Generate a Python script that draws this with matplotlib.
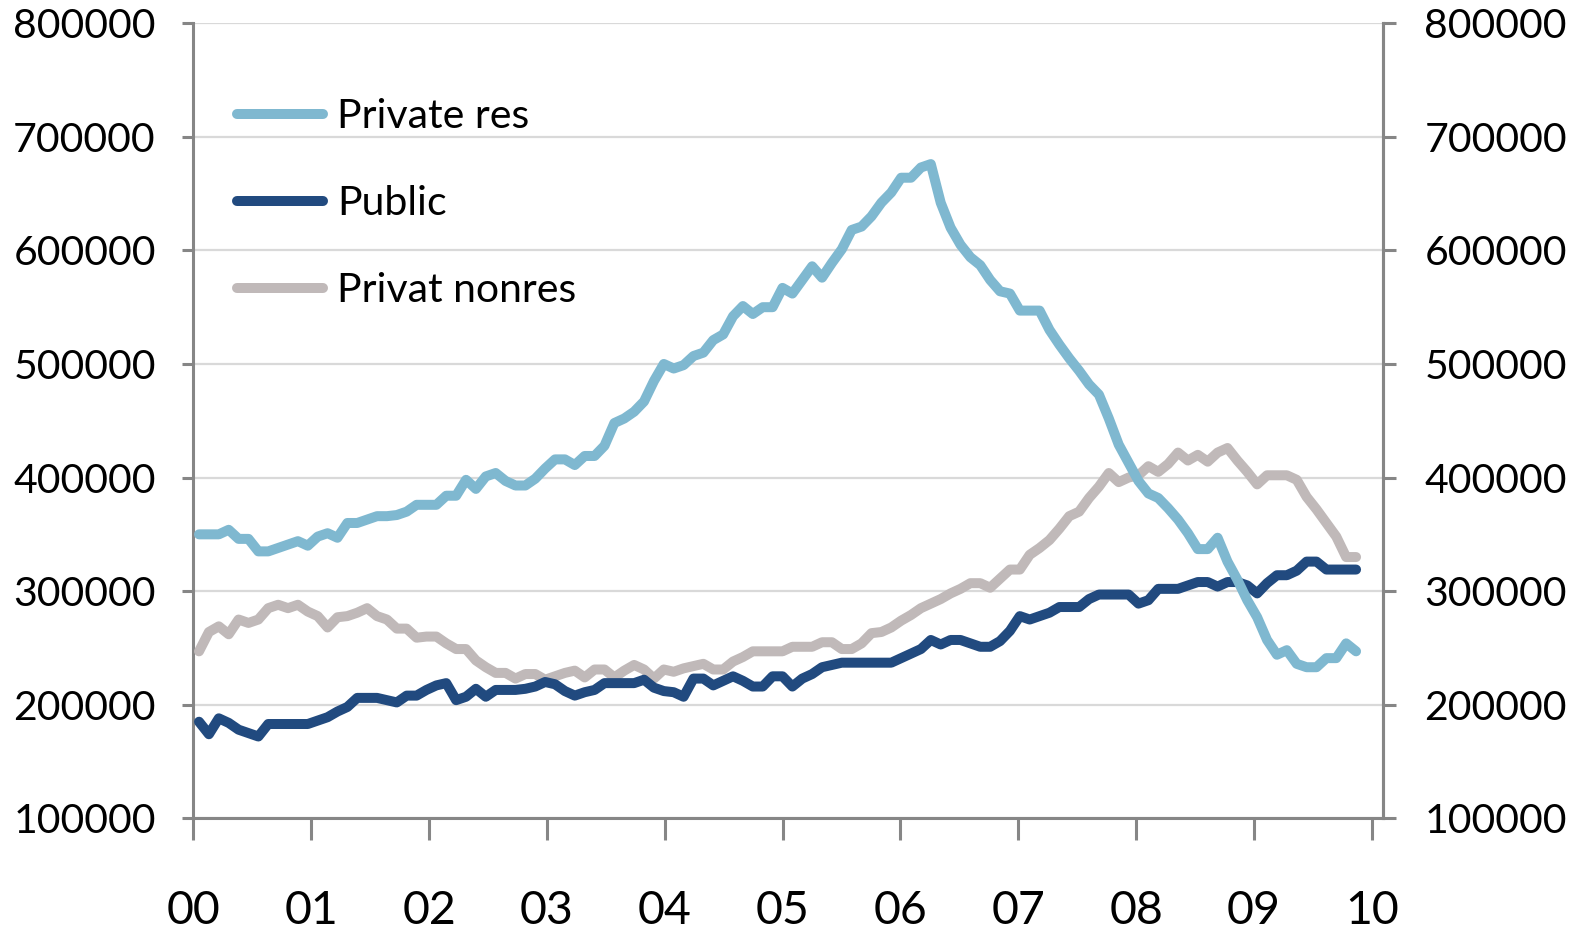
import numpy as np
import matplotlib
matplotlib.use("Agg")
import matplotlib.pyplot as plt

# monthly values, Jan 2000 .. Oct 2009 (thousands)
private_res = [
    350, 350, 350, 354, 346, 346, 335, 335, 338, 341, 344, 340,
    348, 351, 347, 360, 360, 363, 366, 366, 367, 370, 376, 376,
    376, 384, 384, 398, 390, 401, 404, 397, 393, 393, 399, 408,
    416, 416, 411, 419, 419, 428, 448, 452, 458, 467, 485, 500,
    496, 499, 507, 510, 521, 526, 542, 551, 544, 550, 550, 567,
    562, 574, 586, 576, 589, 601, 618, 621, 630, 642, 651, 664,
    664, 673, 676, 642, 620, 605, 594, 587, 574, 564, 562, 547,
    547, 547, 530, 517, 505, 494, 482, 473, 452, 429, 413, 397,
    386, 382, 373, 363, 351, 337, 337, 347, 326, 310, 292, 277,
    257, 244, 248, 236, 233, 233, 241, 241, 254, 247,
]
public = [
    185, 174, 188, 184, 178, 175, 172, 183, 183, 183, 183, 183,
    186, 189, 194, 198, 206, 206, 206, 204, 202, 208, 208, 213,
    217, 219, 204, 207, 214, 207, 213, 213, 213, 214, 216, 220,
    218, 212, 208, 211, 213, 219, 219, 219, 219, 222, 215, 212,
    211, 207, 223, 223, 217, 221, 225, 221, 216, 216, 225, 225,
    216, 223, 227, 233, 235, 237, 237, 237, 237, 237, 237, 241,
    245, 249, 257, 253, 257, 257, 254, 251, 251, 256, 265, 278,
    275, 278, 281, 286, 286, 286, 293, 297, 297, 297, 297, 289,
    292, 302, 302, 302, 305, 308, 308, 304, 308, 308, 305, 298,
    307, 314, 314, 318, 326, 326, 319, 319, 319, 319,
]
private_nonres = [
    247, 264, 269, 262, 275, 272, 275, 285, 288, 285, 288, 282,
    278, 268, 277, 278, 281, 285, 278, 275, 267, 267, 259, 260,
    260, 254, 249, 249, 239, 233, 228, 228, 223, 227, 227, 222,
    225, 228, 230, 224, 231, 231, 224, 230, 235, 231, 223, 231,
    229, 232, 234, 236, 231, 231, 238, 242, 247, 247, 247, 247,
    251, 251, 251, 255, 255, 249, 249, 254, 263, 264, 268, 274,
    279, 285, 289, 293, 298, 302, 307, 307, 303, 311, 319, 319,
    332, 338, 345, 355, 366, 370, 382, 392, 404, 396, 400, 402,
    410, 405, 412, 422, 415, 420, 414, 422, 426, 415, 405, 394,
    402, 402, 402, 398, 383, 372, 360, 348, 330, 330,
]
year_labels = ["00", "01", "02", "03", "04", "05", "06", "07", "08", "09", "10"]
y_ticks = [100000, 200000, 300000, 400000, 500000, 600000, 700000, 800000]

C_RES = "#7fb8d0"
C_PUB = "#214a7f"
C_NONRES = "#c0b9b9"
AXIS_GREY = "#868686"
FONT = "Lato"

fig = plt.figure(figsize=(15.83, 9.34), dpi=100)
ax = fig.add_axes([0.1221, 0.1239, 0.8735 - 0.1221, 0.9751 - 0.1239])

x = np.arange(len(private_res))
lw = 7.2
ax.plot(x, np.array(private_nonres) * 1000, color=C_NONRES, lw=lw, zorder=3,
        solid_capstyle="round", solid_joinstyle="round", label="Privat nonres")
ax.plot(x, np.array(public) * 1000, color=C_PUB, lw=lw, zorder=4,
        solid_capstyle="round", solid_joinstyle="round", label="Public")
ax.plot(x, np.array(private_res) * 1000, color=C_RES, lw=lw, zorder=5,
        solid_capstyle="round", solid_joinstyle="round", label="Private res")

ax.set_ylim(100000, 800000)
ax.set_xlim(-0.58, 119.7)
ax.set_yticks(y_ticks)
ax.set_yticklabels([str(v) for v in y_ticks], fontsize=29.5, family=FONT)
ax.set_xticks(np.linspace(-0.58, 118.6, len(year_labels)))
ax.set_xticklabels(year_labels, fontsize=33.5, family=FONT)
ax.grid(axis="y", color="#d9d9d9", lw=1.6, zorder=0)
ax.set_axisbelow(True)

for side in ["left", "bottom", "right"]:
    ax.spines[side].set_color(AXIS_GREY)
    ax.spines[side].set_linewidth(2.2)
ax.spines["top"].set_visible(False)
ax.tick_params(axis="y", length=8, width=2.2, color=AXIS_GREY, pad=19)
ax.tick_params(axis="x", length=16, width=2.2, color=AXIS_GREY, pad=36)

# right-hand copy of the value axis
ax2 = ax.twinx()
ax2.set_ylim(ax.get_ylim())
ax2.set_yticks(y_ticks)
ax2.set_yticklabels([str(v) for v in y_ticks], fontsize=29.5, family=FONT)
for side in ["left", "bottom", "top"]:
    ax2.spines[side].set_visible(False)
ax2.spines["right"].set_color(AXIS_GREY)
ax2.spines["right"].set_linewidth(2.2)
ax2.tick_params(axis="y", length=9, width=2.2, color=AXIS_GREY, pad=21)

handles, labels = ax.get_legend_handles_labels()
order = [2, 1, 0]
leg = ax2.legend([handles[i] for i in order], [labels[i] for i in order],
                 loc="upper left", bbox_to_anchor=(0.1494, 0.895),
                 bbox_transform=fig.transFigure, frameon=False,
                 prop={"family": FONT, "size": 29.5},
                 handlelength=2.1, handletextpad=0.35, labelspacing=1.22,
                 borderpad=0, borderaxespad=0)

fig.savefig("out.png", dpi=100)
